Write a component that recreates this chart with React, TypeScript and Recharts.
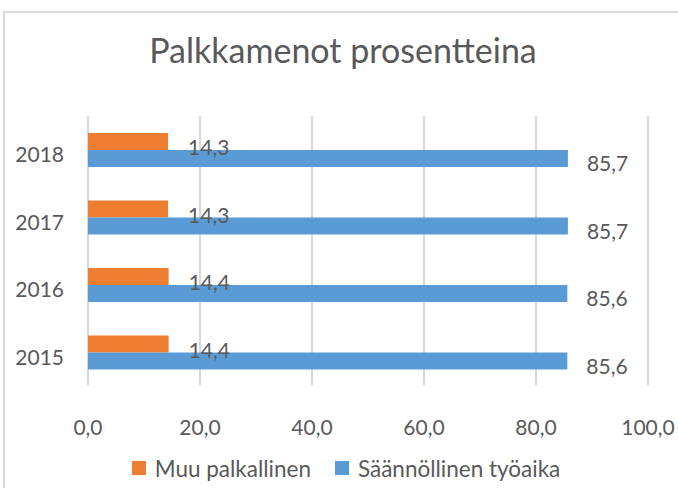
import React from 'react';
import { BarChart, Bar, XAxis, YAxis, CartesianGrid, LabelList, Legend } from 'recharts';

const years = ['2018', '2017', '2016', '2015'];
const muuPalkallinen = [14.3, 14.3, 14.4, 14.4];
const saannollinenTyoaika = [85.7, 85.7, 85.6, 85.6];
const xTicks = [0, 20, 40, 60, 80, 100];
const seriesNames = ['Muu palkallinen', 'Säännöllinen työaika'];
const seriesColors = ['#ED7D31', '#5B9BD5'];

const data = years.map((year, i) => ({
  year,
  muu: muuPalkallinen[i],
  saan: saannollinenTyoaika[i],
}));

const FONT = 'Lato, "Open Sans", sans-serif';
const TEXT = '#595959';
const fmt = (v: number) => v.toFixed(1).replace('.', ',');

const XTick = (props: any) => {
  const { x, y, payload } = props;
  return (
    <text x={x} y={y + 38} textAnchor="middle" dominantBaseline="central" fill={TEXT} fontSize={21} fontFamily={FONT}>
      {fmt(payload.value)}
    </text>
  );
};

const YTick = (props: any) => {
  const { x, y, payload } = props;
  return (
    <text x={x - 22} y={y + 4} textAnchor="end" dominantBaseline="central" fill={TEXT} fontSize={21} fontFamily={FONT}>
      {payload.value}
    </text>
  );
};

const makeLabel = (gap: number, dy: number) => (props: any) => {
  const { x, y, width, height, value } = props;
  return (
    <text x={x + width + gap} y={y + height / 2 + dy} textAnchor="start" dominantBaseline="central" fill={TEXT} fontSize={21} fontFamily={FONT}>
      {fmt(value)}
    </text>
  );
};

const LegendContent = () => (
  <div style={{ height: 30, display: 'flex', justifyContent: 'center', alignItems: 'center', fontFamily: FONT, fontSize: 22.5, color: TEXT, transform: 'translateX(22px)' }}>
    {seriesNames.map((n, i) => (
      <div key={n} style={{ display: 'flex', alignItems: 'center', marginLeft: i ? 24 : 0 }}>
        <div style={{ width: 14, height: 14, background: seriesColors[i], marginRight: 9 }} />
        <span>{n}</span>
      </div>
    ))}
  </div>
);

export default function App() {
  return (
    <div style={{ position: 'absolute', left: 0, top: 0, width: 678, height: 488, overflow: 'hidden', background: '#fff' }}>
      <div style={{ position: 'absolute', left: 3, top: 11, width: 700, height: 500, border: '2px solid #d9d9d9', boxSizing: 'border-box' }} />
      <div style={{ position: 'absolute', left: 0, top: 25, width: 686, textAlign: 'center', fontFamily: FONT, fontSize: 34, color: TEXT, lineHeight: '50px' }}>
        Palkkamenot prosentteina
      </div>
      <div style={{ position: 'absolute', left: 0, top: 0 }}>
        <BarChart width={678} height={488} data={data} layout="vertical" margin={{ top: 116, right: 30, bottom: 5, left: 0 }} barGap={0}>
          <CartesianGrid horizontal={false} vertical stroke="#d9d9d9" strokeWidth={2} />
          <XAxis type="number" domain={[0, 100]} ticks={xTicks} axisLine={false} tickLine={false} tickSize={0} height={67} tick={<XTick />} interval={0} />
          <YAxis type="category" dataKey="year" axisLine={false} tickLine={false} tickSize={0} width={88} tick={<YTick />} />
          <Legend verticalAlign="bottom" content={<LegendContent />} />
          <Bar dataKey="muu" name={seriesNames[0]} fill={seriesColors[0]} barSize={17} isAnimationActive={false}>
            <LabelList dataKey="muu" content={makeLabel(20, 5)} />
          </Bar>
          <Bar dataKey="saan" name={seriesNames[1]} fill={seriesColors[1]} barSize={17} isAnimationActive={false}>
            <LabelList dataKey="saan" content={makeLabel(19, 4)} />
          </Bar>
        </BarChart>
      </div>
    </div>
  );
}
